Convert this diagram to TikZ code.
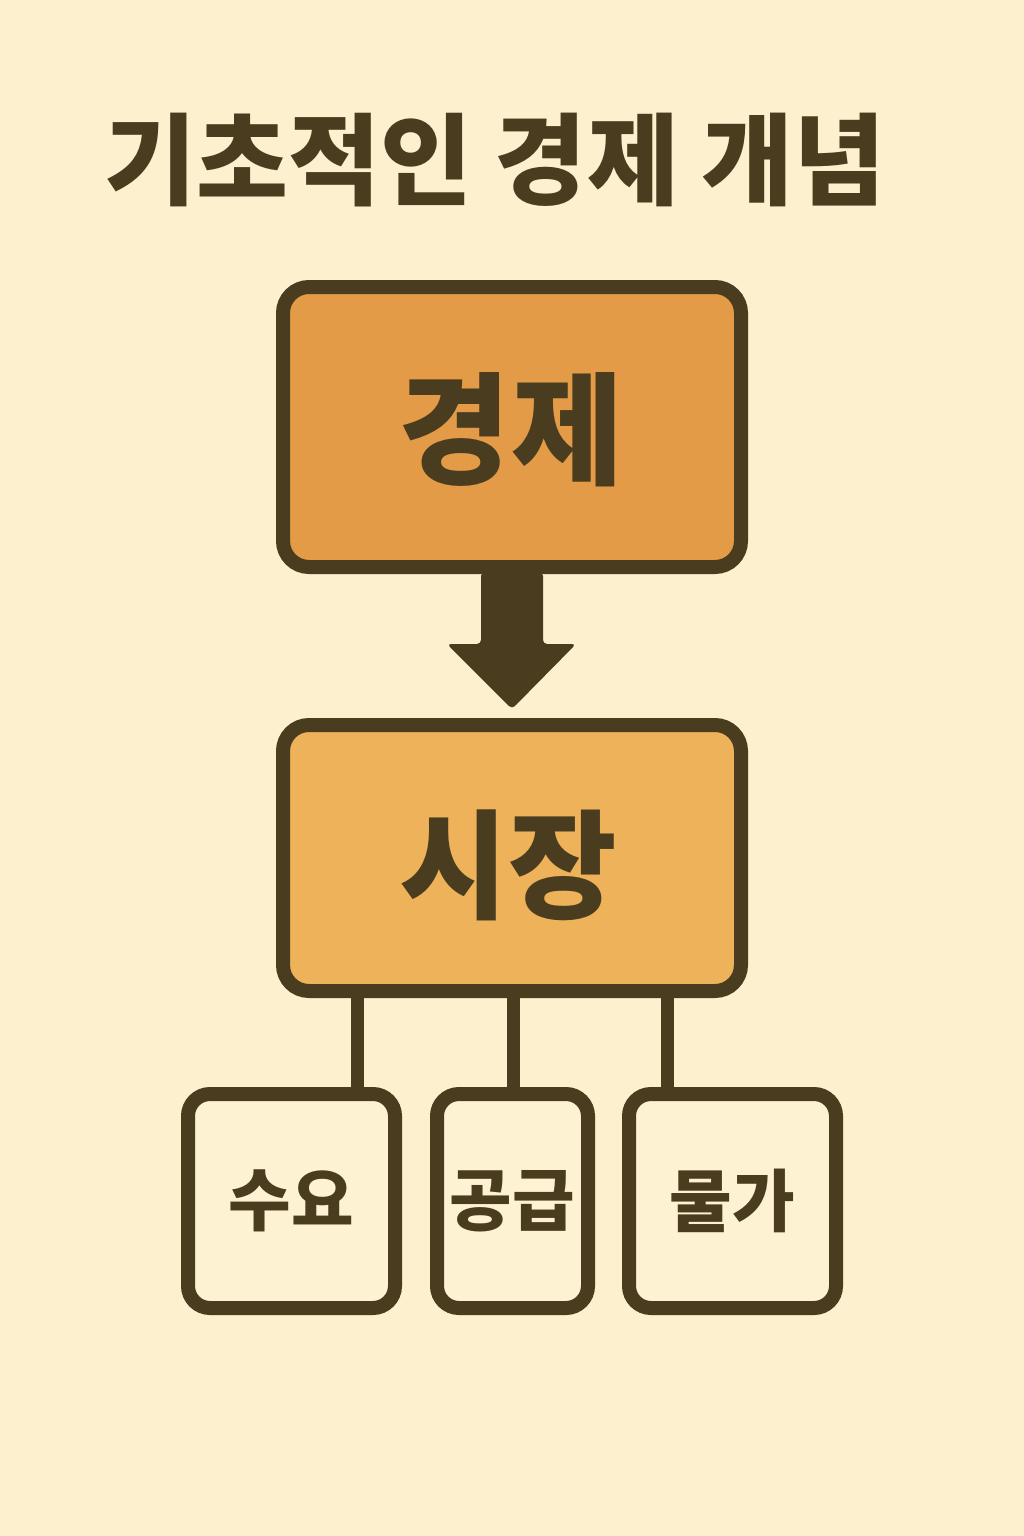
\documentclass[tikz,border=0pt]{standalone}
\usepackage{fontspec}
\setmainfont{Noto Sans CJK KR}
\usetikzlibrary{calc}
\definecolor{bg}{HTML}{FCF0CE}
\definecolor{ink}{HTML}{4A3C1E}
\definecolor{topfill}{HTML}{E39B47}
\definecolor{midfill}{HTML}{EDB25A}
\definecolor{leaffill}{HTML}{FDF2D2}
\begin{document}
\begin{tikzpicture}[x=1pt,y=-1pt,
  bigbox/.style={draw=ink, line width=14pt, rounded corners=26pt, inner sep=0pt, text=ink},
  leafbox/.style={draw=ink, line width=14pt, rounded corners=22pt, fill=leaffill, inner sep=0pt, text=ink,
     minimum height=214pt, font=\bfseries\fontsize{68}{74}\selectfont},
  link/.style={draw=ink, line width=13pt}
]
\fill[bg] (0,0) rectangle (1024,1536);
\useasboundingbox (0,0) rectangle (1024,1536);

\node[text=ink, font=\bfseries\fontsize{100}{110}\selectfont] (title) at (495,160) {기초적인 경제 개념};

\node[bigbox, fill=topfill, minimum width=458pt, minimum height=280pt] (econ) at (512,427) {};
\node[text=ink, font=\bfseries\fontsize{122}{130}\selectfont] (econt) at (511,430) {경제};

\node[bigbox, fill=midfill, minimum width=458pt, minimum height=266pt] (market) at (512,858) {};
\node[text=ink, font=\bfseries\fontsize{118}{126}\selectfont] (markett) at (508,865) {시장};

\node[leafbox, minimum width=207pt] (demand) at (291.5,1201) {수요};
\node[leafbox, minimum width=151pt] (supply) at (512.5,1201) {공급};
\node[leafbox, minimum width=207pt] (price) at (732.5,1201) {물가};

% arrow
\fill[ink, rounded corners=4pt]
  ($(econ.south)+(-31,-2)$) -- ($(econ.south)+(-31,70)$) -- ($(econ.south)+(-65,70)$)
  -- ($(market.north)+(0,-9)$) -- ($(econ.south)+(64,70)$) -- ($(econ.south)+(31,70)$)
  -- ($(econ.south)+(31,-2)$) -- cycle;

% links
\draw[link] (market.south -| 357,0) -- (demand.north -| 357,0);
\draw[link] (market.south -| 513,0) -- (supply.north -| 513,0);
\draw[link] (market.south -| 667,0) -- (price.north -| 667,0);
\end{tikzpicture}
\end{document}
